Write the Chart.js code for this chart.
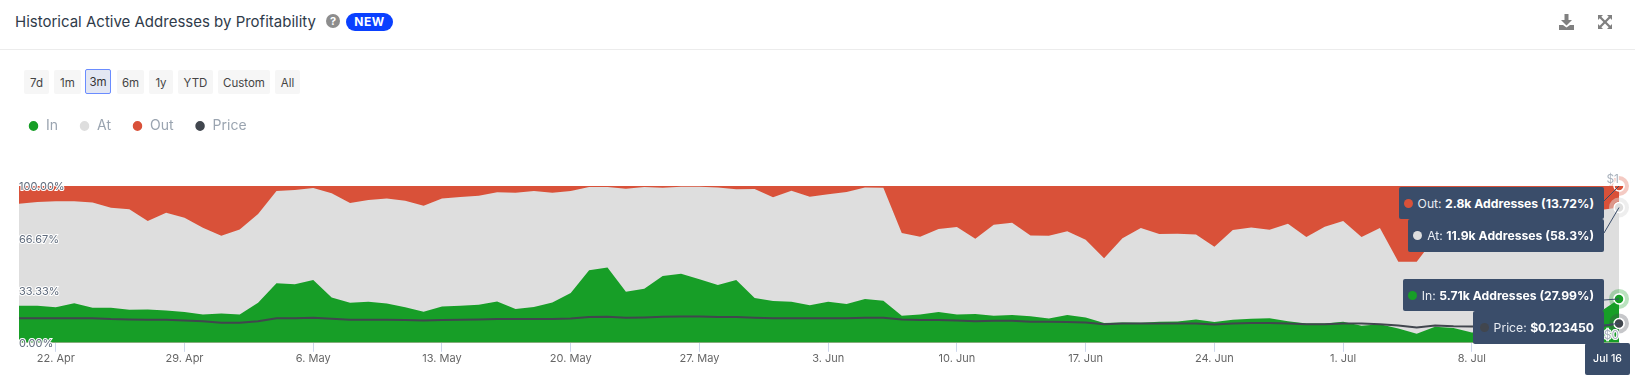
<!DOCTYPE html>
<html>
<head>
<meta charset="utf-8">
<title>Historical Active Addresses by Profitability</title>
<script src="https://cdn.jsdelivr.net/npm/chart.js@4"></script>
<style>
  html, body { margin: 0; padding: 0; background: #fff; overflow: hidden; }
  body { width: 1635px; height: 381px; position: relative; font-family: Inter, sans-serif; }
  .title { position: absolute; left: 15px; top: 12px; font-size: 15px; line-height: 20px; font-weight: 400; color: #2f3b4a; white-space: nowrap; }
  .help { position: absolute; left: 326px; top: 14px; width: 14px; height: 14px; border-radius: 50%; background: #8d8d8d; color: #fff; font-size: 11px; font-weight: 700; line-height: 14px; text-align: center; }
  .new { position: absolute; left: 346px; top: 13px; width: 47px; height: 18px; border-radius: 9px; background: #0a40ff; color: #fff; font-size: 12px; font-weight: 700; line-height: 18px; text-align: center; letter-spacing: .6px; }
  .rule { position: absolute; left: 0; top: 49px; width: 1635px; height: 1px; background: #ececec; }
  .icon { position: absolute; top: 13px; }
  .range { position: absolute; top: 70px; height: 24px; background: #f6f6f6; border-radius: 2px; font-size: 11.5px; line-height: 26px; text-align: center; color: #444; }
  .range.on { top: 69px; height: 23px; line-height: 25px; background: #e3e7f3; border: 1.5px solid #6a8cff; color: #333; box-sizing: content-box; }
  canvas { position: absolute; left: 7px; top: 98px; }
  .tip { position: absolute; left: 0; background: #3a4d6a; border-radius: 2px; color: #e8ecf2; font-size: 12.2px; display: flex; align-items: center; justify-content: flex-end; padding-right: 10px; box-sizing: border-box; white-space: pre; }
  .tip b { color: #fff; font-weight: 700; }
  .tip i { width: 9px; height: 9px; border-radius: 50%; margin-right: 5px; }
  .date { position: absolute; left: 1585px; top: 343px; width: 45px; height: 32px; background: #3a4d6a; border-radius: 2px; color: #fff; font-size: 10.5px; font-weight: 500; line-height: 32px; text-align: center; }
</style>
</head>
<body>
<div class="title">Historical Active Addresses by Profitability</div>
<div class="help">?</div>
<div class="new">NEW</div>
<div class="rule"></div>
<svg class="icon" style="left:1558px" width="17" height="18" viewBox="0 0 17 18"><path d="M6.5 1h4v6h3.5l-5.5 5.5L3 7h3.5zM1 12h4l3.5 2.5L12 12h4v5H1z" fill="#808080"/></svg>
<svg class="icon" style="left:1597px" width="16" height="18" viewBox="0 0 16 18"><path d="M1 2h5L4.300 3.700 8 7.400 11.700 3.700 10 2h5v5l-1.700-1.700L9.600 9l3.700 3.700L15 11v5h-5l1.700-1.700L8 10.600l-3.700 3.700L6 16H1v-5l1.700 1.700L6.400 9 2.700 5.300 1 7z" fill="#808080"/></svg>
<div class="range" style="left:24px;width:25px">7d</div>
<div class="range" style="left:54px;width:27px">1m</div>
<div class="range on" style="left:85px;width:24px">3m</div>
<div class="range" style="left:117px;width:27px">6m</div>
<div class="range" style="left:149px;width:24px">1y</div>
<div class="range" style="left:178px;width:35px">YTD</div>
<div class="range" style="left:218px;width:52px">Custom</div>
<div class="range" style="left:275px;width:25px">All</div>
<canvas id="canvas" width="1628" height="283"></canvas>
<div id="tips"></div>
<div class="date">Jul 16</div>
<script>
var inPct = [23.6, 23.6, 22.6, 25.3, 22.3, 22.3, 21.1, 21.3, 20.6, 19.6, 18.1, 18.7, 18.1, 25.5, 37.9, 37.4, 40.0, 28.9, 25.5, 26.2, 25.1, 22.6,
  19.8, 23.2, 23.6, 24.3, 26.4, 21.5, 22.8, 25.7, 31.7, 46.2, 48.1, 32.6, 34.5, 42.6, 44.0, 40.6, 36.8, 40.0, 28.5, 26.6, 26.2, 24.0, 26.2,
  24.7, 27.9, 26.8, 17.2, 18.1, 19.6, 18.1, 18.3, 17.2, 17.7, 17.0, 15.5, 17.7, 16.2, 12.6, 13.0, 12.8, 13.4, 13.6, 14.9, 13.2, 14.7,
  15.3, 15.7, 13.8, 12.3, 12.3, 13.4, 10.9, 11.9, 9.1, 5.7, 10.2, 9.4, 6.6, 7, 7, 8, 10, 12, 14, 20, 27.99];
var atPct = [65.1, 66.2, 67.6, 64.9, 67.1, 63.9, 64.0, 56.4, 62.4, 60.2, 55.3, 49.6, 54.2, 56.6, 58.9, 60.0, 58.7, 66.4, 63.6, 64.9, 67.0, 68.0,
  67.6, 68.9, 69.4, 69.5, 69.6, 74.2, 74.0, 70.0, 65.1, 53.2, 51.3, 65.7, 64.9, 56.3, 55.6, 59.0, 62.3, 57.9, 69.6, 66.2, 70.8, 69.2, 68.5,
  71.5, 71.2, 72.1, 52.8, 49.6, 53.0, 55.7, 48.1, 58.1, 58.9, 51.5, 52.8, 53.4, 49.5, 41.4, 53.6, 60.4, 56.0, 56.0, 54.2, 48.1, 57.2,
  58.3, 56.4, 62.2, 55.1, 61.7, 64.3, 56.5, 61.3, 42.6, 46.0, 56.8, 60.6, 67.4, 65, 68, 65, 66, 66, 66, 64.7, 58.29];
var outPct = [11.3, 10.2, 9.8, 9.8, 10.6, 13.8, 14.9, 22.3, 17.0, 20.2, 26.6, 31.7, 27.7, 17.9, 3.2, 2.6, 1.3, 4.7, 10.9, 8.9, 7.9, 9.4,
  12.6, 7.9, 7.0, 6.2, 4.0, 4.3, 3.2, 4.3, 3.2, 0.6, 0.6, 1.7, 0.6, 1.1, 0.4, 0.4, 0.9, 2.1, 1.9, 7.2, 3.0, 6.8, 5.3,
  3.8, 0.9, 1.1, 30.0, 32.3, 27.4, 26.2, 33.6, 24.7, 23.4, 31.5, 31.7, 28.9, 34.3, 46.0, 33.4, 26.8, 30.6, 30.4, 30.9, 38.7, 28.1,
  26.4, 27.9, 24.0, 32.6, 26.0, 22.3, 32.6, 26.8, 48.3, 48.3, 33, 30, 26, 28, 25, 27, 24, 22, 20, 15.3, 13.72];
var price = [0.157, 0.157, 0.157, 0.157, 0.157, 0.151, 0.149, 0.147, 0.147, 0.143, 0.138, 0.128, 0.128, 0.138, 0.157, 0.157, 0.160, 0.153, 0.147, 0.147, 0.147, 0.145,
  0.143, 0.145, 0.147, 0.149, 0.151, 0.151, 0.151, 0.151, 0.155, 0.164, 0.166, 0.160, 0.162, 0.166, 0.168, 0.168, 0.164, 0.164, 0.160, 0.157, 0.157, 0.157, 0.157,
  0.157, 0.160, 0.160, 0.149, 0.145, 0.145, 0.143, 0.138, 0.140, 0.140, 0.134, 0.134, 0.132, 0.130, 0.119, 0.123, 0.123, 0.123, 0.123, 0.123, 0.117, 0.123,
  0.126, 0.126, 0.123, 0.119, 0.119, 0.123, 0.123, 0.119, 0.111, 0.098, 0.111, 0.106, 0.104, 0.104, 0.106, 0.106, 0.106, 0.106, 0.106, 0.106, 0.12345];
var months = [["Apr", 20, 30], ["May", 1, 31], ["Jun", 1, 30], ["Jul", 1, 16]];
var tickLabels = ["22. Apr", "29. Apr", "6. May", "13. May", "20. May", "27. May", "3. Jun", "10. Jun", "17. Jun", "24. Jun", "1. Jul", "8. Jul"];
var pctTicks = [0, 33.33, 66.67, 100];
var priceTicks = [0, 1];

var categories = [];
months.forEach(function(m) {
  for (var d = m[1]; d <= m[2]; d++) categories.push(d + ". " + m[0]);
});

var colors = { in: "#179e27", at: "#dedede", out: "#d95139", price: "#41464e" };
var last = categories.length - 1;

function areaSet(label, data, color, order) {
  return {
    label: label, data: data, order: order, yAxisID: "y",
    backgroundColor: color, borderColor: color, borderWidth: 0, fill: "origin", tension: 0,
    pointRadius: function(c) { return c.dataIndex === last ? 5 : 0; },
    pointBackgroundColor: color, pointBorderColor: "#fff", pointBorderWidth: 1.5
  };
}

// tooltip boxes for the last day
var tips = [
  { key: "out", left: 1399, top: 187, right: 1604, bottom: 219, pre: "Out: ", val: "2.8k Addresses (13.72%)", set: 2, from: 201 },
  { key: "at", left: 1408, top: 219, right: 1604, bottom: 252, pre: "At: ", val: "11.9k Addresses (58.3%)", set: 1, from: 233 },
  { key: "in", left: 1403, top: 279, right: 1604, bottom: 311, pre: "In: ", val: "5.71k Addresses (27.99%)", set: 0, from: 300 },
  { key: "price", left: 1473, top: 311, right: 1604, bottom: 344, pre: "Price: ", val: "$0.123450", set: 3, from: 325 }
];
var tipsEl = document.getElementById("tips");
tips.forEach(function(t) {
  var d = document.createElement("div");
  d.className = "tip";
  d.style.cssText = "left:" + t.left + "px;top:" + t.top + "px;width:" + (t.right - t.left) + "px;height:" + (t.bottom - t.top) + "px";
  d.innerHTML = '<i style="background:' + colors[t.key] + '"></i>' + t.pre + "<b>" + t.val + "</b>";
  tipsEl.appendChild(d);
});

var haloPlugin = {
  id: "halo",
  beforeInit: function(chart) {
    var fit = chart.legend.fit;
    chart.legend.fit = function() {
      fit.call(this);
      this.height = 88;
    };
  },
  afterDatasetsDraw: function(chart) {
    var ctx = chart.ctx;
    tips.forEach(function(t) {
      var p = chart.getDatasetMeta(t.set).data[last];
      ctx.save();
      ctx.globalAlpha = t.key === "at" ? 0.5 : 0.3;
      ctx.strokeStyle = colors[t.key];
      ctx.lineWidth = 4;
      ctx.beginPath();
      ctx.arc(p.x, p.y, 8, 0, Math.PI * 2);
      ctx.stroke();
      ctx.globalAlpha = 1;
      ctx.strokeStyle = "#3a4d6a";
      ctx.lineWidth = 1;
      ctx.beginPath();
      ctx.moveTo(1604 - 7, t.from - 98);
      ctx.lineTo(p.x, p.y);
      ctx.stroke();
      ctx.restore();
    });
  }
};

window.myChart = new Chart(document.getElementById("canvas").getContext("2d"), {
  type: "line",
  plugins: [haloPlugin],
  data: {
    labels: categories,
    datasets: [
      areaSet("In", inPct, colors.in, 1),
      areaSet("At", atPct, colors.at, 2),
      areaSet("Out", outPct, colors.out, 3),
      {
        label: "Price", data: price, order: 0, yAxisID: "y1",
        backgroundColor: colors.price, borderColor: colors.price, borderWidth: 2, fill: false, tension: 0,
        pointRadius: function(c) { return c.dataIndex === last ? 5 : 0; },
        pointBackgroundColor: colors.price, pointBorderColor: "#fff", pointBorderWidth: 1.5
      }
    ]
  },
  options: {
    responsive: false,
    animation: false,
    layout: { padding: { bottom: 16 } },
    plugins: {
      tooltip: { enabled: false },
      legend: {
        position: "top",
        align: "start",
        labels: {
          usePointStyle: true, pointStyle: "circle", pointStyleWidth: 11, boxHeight: 8, padding: 21, color: "#9aa4b0", font: { family: "Inter", size: 14 },
          sort: function(a, b) { return a.datasetIndex - b.datasetIndex; }
        }
      }
    },
    scales: {
      x: {
        offset: false,
        grid: { drawOnChartArea: false, tickColor: "#ccd6eb", tickLength: 9 },
        border: { color: "#ccd6eb" },
        afterBuildTicks: function(scale) {
          scale.ticks = scale.ticks.filter(function(t) { return tickLabels.indexOf(scale.getLabelForValue(t.value)) >= 0; });
        },
        ticks: { autoSkip: false, maxRotation: 0, padding: 0, color: "#666", font: { family: "Inter", size: 11 } }
      },
      y: {
        stacked: true, min: 0, max: 100, position: "left",
        grid: { display: false }, border: { display: false },
        afterBuildTicks: function(scale) { scale.ticks = pctTicks.map(function(v) { return { value: v }; }); },
        afterFit: function(scale) { scale.width = 12; },
        ticks: {
          z: 1, mirror: true, padding: 0, labelOffset: 1, color: "#5f6b7c", font: { family: "Inter", size: 11 }, textStrokeColor: "#fff", textStrokeWidth: 2,
          callback: function(v) { return v.toFixed(2) + "%"; }
        }
      },
      y1: {
        min: 0, max: 1, position: "right",
        grid: { display: false }, border: { display: false },
        afterBuildTicks: function(scale) { scale.ticks = priceTicks.map(function(v) { return { value: v }; }); },
        afterFit: function(scale) { scale.width = 16; },
        ticks: {
          z: 1, mirror: true, padding: 0, labelOffset: -7, color: "#a9b2bd", font: { family: "Inter", size: 12 }, textStrokeColor: "#fff", textStrokeWidth: 2,
          callback: function(v) { return "$" + v; }
        }
      }
    }
  }
});
</script>
</body>
</html>
